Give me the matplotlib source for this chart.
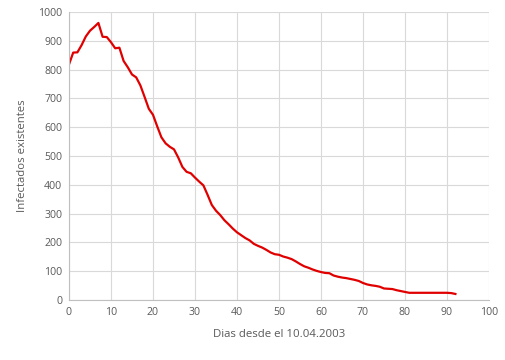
import matplotlib
matplotlib.use('Agg')
import matplotlib.pyplot as plt

# dias desde el 10.04.2003 y numero de infectados existentes
dias = list(range(0, 93))
infectados = [818, 859, 860, 885, 915, 935, 948, 962, 914, 913,
              895, 874, 876, 830, 808, 783, 773, 745, 705, 664,
              643, 603, 565, 544, 532, 523, 495, 462, 445, 440,
              425, 411, 398, 365, 330, 310, 295, 277, 263, 248,
              235, 225, 215, 207, 195, 188, 182, 174, 165, 159,
              157, 151, 147, 142, 134, 125, 117, 112, 106, 101,
              97, 94, 93, 85, 81, 78, 76, 73, 70, 66,
              59, 54, 51, 49, 46, 40, 39, 38, 34, 31,
              28, 25, 25, 25, 25, 25, 25, 25, 25, 25,
              25, 24, 21]

xticks = list(range(0, 101, 10))
yticks = list(range(0, 1001, 100))

plt.rcParams['font.family'] = ['Open Sans', 'DejaVu Sans']

fig = plt.figure(figsize=(5.06, 3.6), dpi=100)
ax = fig.add_axes([69 / 506, 60 / 360, 420 / 506, 288 / 360])

ax.plot(dias, infectados, color='#e00000', lw=1.6, solid_joinstyle='round')

ax.set_xlim(0, 100)
ax.set_ylim(0, 1000)
ax.set_xticks(xticks)
ax.set_yticks(yticks)
ax.grid(True, color='#d9d9d9', lw=0.8)
ax.set_axisbelow(True)
for s in ['top', 'right']:
    ax.spines[s].set_visible(False)
for s in ['left', 'bottom']:
    ax.spines[s].set_color('#bfbfbf')
    ax.spines[s].set_linewidth(0.8)
ax.tick_params(length=0, labelsize=7.6, colors='#595959', pad=5)

ax.set_xlabel('Dias desde el 10.04.2003', fontsize=8.2, color='#595959', labelpad=8)
ax.set_ylabel('Infectados existentes', fontsize=8.2, color='#595959', labelpad=7)

fig.savefig('out.png', dpi=100)
